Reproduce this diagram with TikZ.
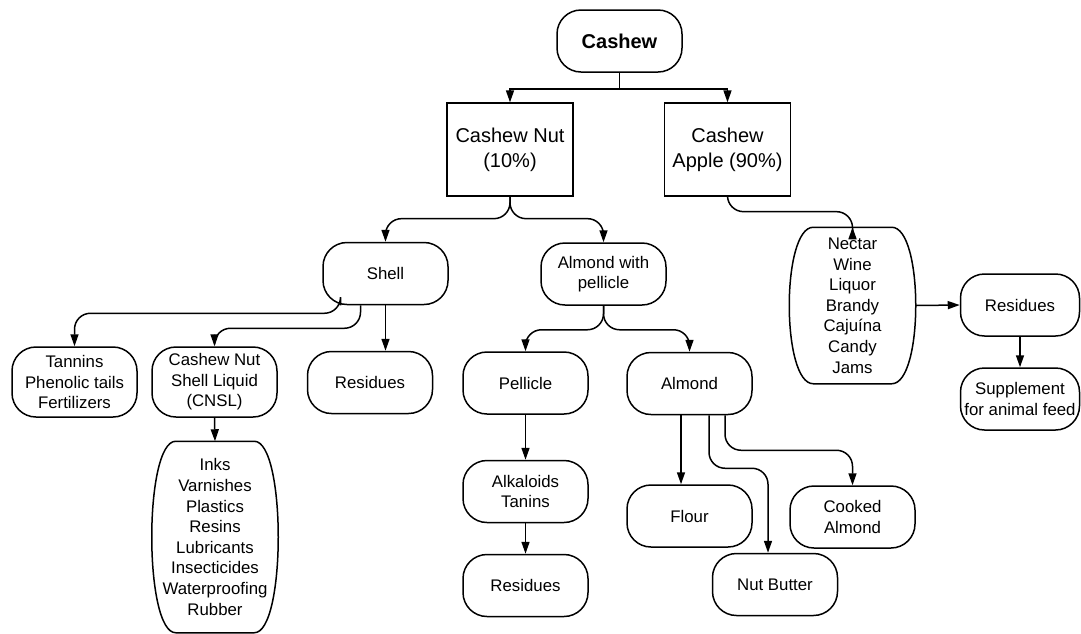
\documentclass[tikz,border=0pt]{standalone}
\usepackage{fontspec}
\setmainfont{Liberation Sans}
\usetikzlibrary{arrows.meta}

\begin{document}
\begin{tikzpicture}[x=1pt, y=-1pt, line width=1.5pt,
  >={Triangle[length=12pt,width=8pt]},
  every node/.style={font=\fontsize{16.8}{20.6}\selectfont},
  pill/.style={draw, rounded corners=24pt, align=center, minimum width=125pt, minimum height=62pt, inner sep=1pt},
  rect/.style={draw, line width=1.3pt, align=center, minimum width=126pt, minimum height=93pt, font=\fontsize{20}{25}\selectfont},
  tall/.style={align=center, minimum width=125pt, inner sep=1pt},
  link/.style={->, rounded corners=16pt}]
  \useasboundingbox (0,0) rectangle (1081,633);
  % top levels
  \node[pill, font=\bfseries\fontsize{20}{24}\selectfont] (cashew) at (619.5,41) {Cashew};
  \node[rect] (nut) at (510,149.5) {Cashew Nut\\(10\%)};
  \node[rect] (apple) at (727.5,149.5) {Cashew\\Apple (90\%)};
  % shell branch
  \node[pill] (shell) at (385.5,273.5) {Shell};
  \node[pill, minimum height=70pt] (tannins) at (74.5,382) {Tannins\\Phenolic tails\\Fertilizers};
  \node[pill, minimum height=70pt] (cnsl) at (214.5,382) {Cashew Nut\\Shell Liquid\\(CNSL)};
  \node[pill] (shellres) at (370,382.5) {Residues};
  \node[tall, minimum height=190pt] (inks) at (215,537) {Inks\\Varnishes\\Plastics\\Resins\\Lubricants\\Insecticides\\Waterproofing\\Rubber};
  % almond branch
  \node[pill] (awp) at (603.5,274) {Almond with\\pellicle};
  \node[pill] (pellicle) at (525.5,383) {Pellicle};
  \node[pill] (almond) at (689.5,383.5) {Almond};
  \node[pill] (alkaloids) at (525.5,491.5) {Alkaloids\\Tanins};
  \node[pill] (pelres) at (525.5,585.5) {Residues};
  \node[pill] (flour) at (689.5,516) {Flour};
  \node[pill] (butter) at (775,584.5) {Nut Butter};
  \node[pill] (cooked) at (852.5,517) {Cooked\\Almond};
  % apple branch
  \node[tall, minimum height=155pt] (nectar) at (852.5,305.5) {Nectar\\Wine\\Liquor\\Brandy\\Cajuína\\Candy\\Jams};
  \node[pill, minimum width=119pt] (appres) at (1020,305) {Residues};
  \node[pill, minimum width=119pt] (feed) at (1020,399) {Supplement\\for animal feed};
  % barrel outlines
  \draw ([xshift=24pt]inks.north west) -- ([xshift=-24pt]inks.north east)
    .. controls ([xshift=8pt]inks.north east) and ([xshift=8pt]inks.south east) .. ([xshift=-24pt]inks.south east)
    -- ([xshift=24pt]inks.south west)
    .. controls ([xshift=-8pt]inks.south west) and ([xshift=-8pt]inks.north west) .. cycle;
  \draw ([xshift=24pt]nectar.north west) -- ([xshift=-24pt]nectar.north east)
    .. controls ([xshift=8pt]nectar.north east) and ([xshift=8pt]nectar.south east) .. ([xshift=-24pt]nectar.south east)
    -- ([xshift=24pt]nectar.south west)
    .. controls ([xshift=-8pt]nectar.south west) and ([xshift=-8pt]nectar.north west) .. cycle;
  % connectors
  \draw[->] (cashew.south) -- ++(0,16) -| (nut.north);
  \draw[->] (cashew.south) -- ++(0,16) -| (apple.north);
  \draw[link] (nut.south) -- ++(0,22) -| (shell.north);
  \draw[link] (nut.south) -- ++(0,22) -| (awp.north);
  \draw[link] (apple.south) -- ++(0,15) -| (nectar.north);
  \draw[link] ([xshift=-45pt]shell.south) -- ++(0,8) -| (tannins.north);
  \draw[link] ([xshift=-25pt]shell.south) -- ++(0,23) -| (cnsl.north);
  \draw[->] (shell.south) -- (shell.south |- shellres.north);
  \draw[->] (cnsl.south) -- (inks.north);
  \draw[link] (awp.south) -- ++(0,24) -| (pellicle.north);
  \draw[link] (awp.south) -- ++(0,24) -| (almond.north);
  \draw[->] (pellicle) -- (alkaloids);
  \draw[->] (alkaloids) -- (pelres);
  \draw[->] ([xshift=-8.5pt]almond.south) -- ([xshift=-8.5pt]flour.north);
  \draw[link] ([xshift=19.5pt]almond.south) -- ++(0,53) -| ([xshift=-7pt]butter.north);
  \draw[link] ([xshift=35.5pt]almond.south) -- ++(0,35) -| (cooked.north);
  \draw[->] (nectar.east) -- (appres.west);
  \draw[->] (appres) -- (feed);
\end{tikzpicture}
\end{document}
